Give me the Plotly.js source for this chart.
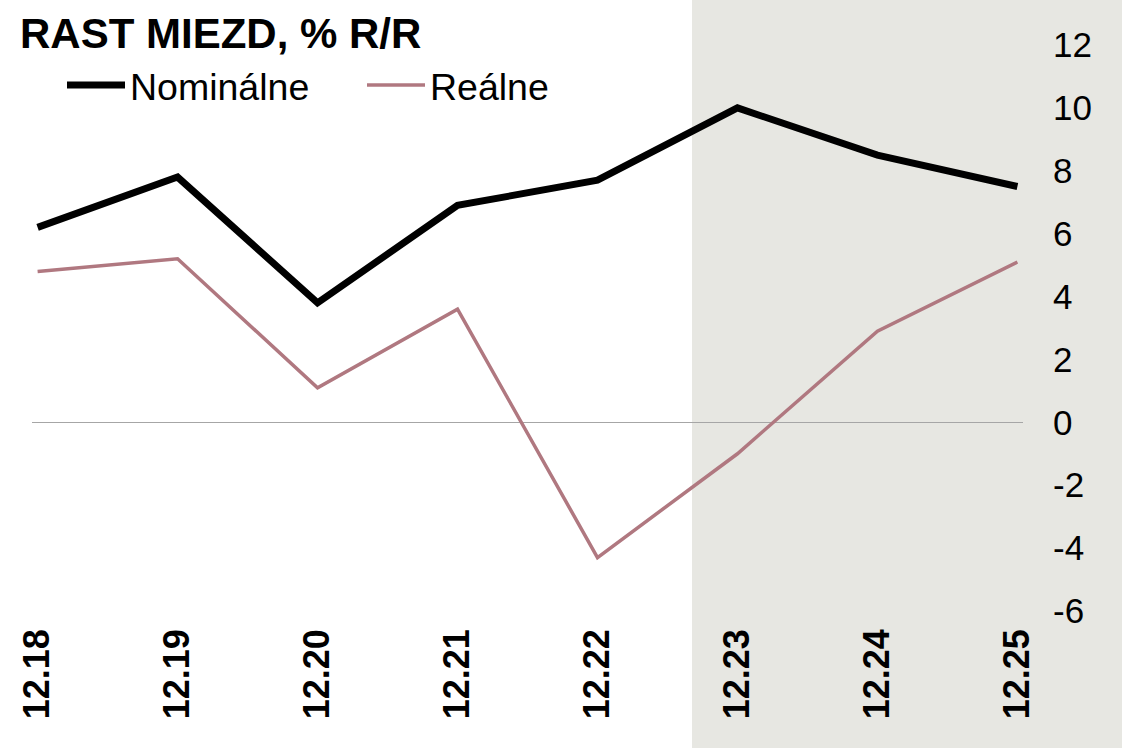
<!DOCTYPE html>
<html><head><meta charset="utf-8">
<script src="https://cdn.plot.ly/plotly-3.0.1.min.js"></script>
<style>html,body{margin:0;padding:0;background:#fff}#chart{width:1122px;height:748px}</style>
</head><body><div id="chart"></div>
<script>
const categories = ['12.18','12.19','12.20','12.21','12.22','12.23','12.24','12.25'];
const nominalne = [6.2, 7.8, 3.8, 6.9, 7.7, 10.0, 8.5, 7.5];
const realne = [4.8, 5.2, 1.1, 3.6, -4.3, -1.0, 2.9, 5.1];
const yTickValues = [-6, -4, -2, 0, 2, 4, 6, 8, 10, 12];
const yTickLabels = ['-6', '-4', '-2', '0', '2', '4', '6', '8', '10', '12'];
const seriesNames = ['Nominálne', 'Reálne'];
const titleText = 'RAST MIEZD, % R/R';

const FONT = 'Liberation Sans, Arial, sans-serif';
const traces = [
  {x: categories, y: nominalne, name: seriesNames[0], type: 'scatter', mode: 'lines',
   line: {color: '#000000', width: 7}},
  {x: categories, y: realne, name: seriesNames[1], type: 'scatter', mode: 'lines',
   line: {color: '#b07880', width: 3.5}}
];
const layout = {
  width: 1122, height: 748,
  margin: {l: 32, r: 99, t: 45, b: 137, autoexpand: false},
  paper_bgcolor: '#ffffff', plot_bgcolor: 'rgba(0,0,0,0)',
  font: {family: FONT, color: '#000000'},
  title: {text: '<b>' + titleText + '</b>', font: {family: FONT, size: 42, color: '#000'},
          x: 20/1122, xref: 'container', xanchor: 'left', y: 1 - 19/748, yref: 'container', yanchor: 'top'},
  showlegend: true,
  legend: {orientation: 'h', xref: 'container', yref: 'container', x: 62/1122, xanchor: 'left',
           y: 1 - 54/748, yanchor: 'top', font: {family: FONT, size: 37.5, color: '#000'},
           itemwidth: 58, entrywidth: 227, bgcolor: 'rgba(0,0,0,0)', traceorder: 'normal'},
  xaxis: {type: 'category', range: [-0.04, 7.04], showgrid: false, zeroline: false, showline: false,
          ticks: '', tickangle: -90, ticklabelstandoff: 10,
          tickfont: {family: FONT, size: 36, color: '#000', weight: 'bold'}},
  yaxis: {side: 'right', range: [-6, 12], showgrid: false, showline: false, ticks: '',
          zeroline: true, zerolinecolor: '#a6a6a6', zerolinewidth: 1,
          tickmode: 'array', tickvals: yTickValues, ticktext: yTickLabels, ticklabelstandoff: 29,
          tickfont: {family: FONT, size: 35, color: '#000'}},
  shapes: [{type: 'rect', xref: 'paper', yref: 'paper', layer: 'below',
            x0: (692-32)/991, x1: (1122-32)/991, y0: -137/566, y1: 1 + 45/566,
            fillcolor: '#e7e7e2', line: {width: 0}}]
};
Plotly.newPlot('chart', traces, layout, {displayModeBar: false, staticPlot: true});
</script></body></html>
